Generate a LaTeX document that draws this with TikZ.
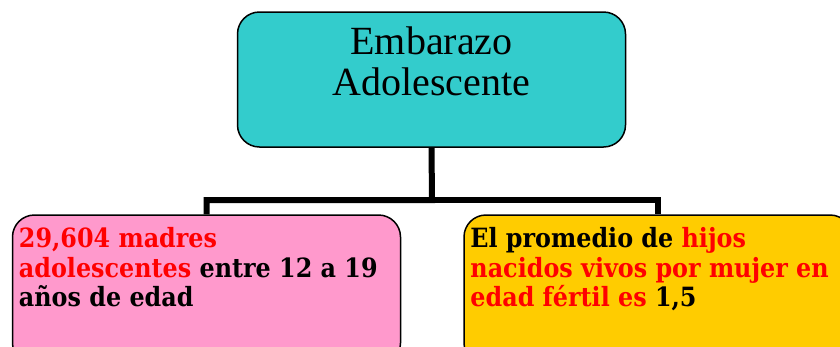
\documentclass[tikz,border=0pt]{standalone}
\usepackage{fontspec}
\setmainfont{Liberation Serif}
\newfontfamily\boxfont[FakeStretch=0.9]{DejaVu Serif}
\usetikzlibrary{positioning}
\definecolor{topfill}{HTML}{33CCCC}
\definecolor{leftfill}{HTML}{FF99CC}
\definecolor{rightfill}{HTML}{FFCC00}
\definecolor{hired}{HTML}{FF0000}

\begin{document}
\begin{tikzpicture}[x=1pt,y=-1pt]
	\tikzset{box/.style = {draw, line width=1.5pt, rounded corners=22pt, minimum width=388pt}}
	\tikzset{link/.style = {line width=6pt}}
	\tikzset{txt/.style = {inner sep=0pt, align=left, font=\boxfont\bfseries\fontsize{26.5}{29.5}\selectfont}}
	\useasboundingbox (0,0) rectangle (840,346);
	\clip (0,0) rectangle (840,346);
	\node[box, fill=topfill, minimum height=135pt] (top) at (431.5,79.5) {};
	\node[box, fill=leftfill, minimum height=150pt] (left) at (206.5,290) {};
	\node[box, fill=rightfill, minimum height=150pt] (right) at (658,290) {};
	\node[inner sep=0pt, align=center, font=\fontsize{40}{41.5}\selectfont, below=15pt of top.north] (title) {Embarazo\\Adolescente};
	\node[txt, below right=13pt and 7pt of left.north west] (lefttext) {\textcolor{hired}{29,604 madres}\\\textcolor{hired}{adolescentes} entre 12 a 19\\años de edad};
	\node[txt, below right=13pt and 7pt of right.north west] (righttext) {El promedio de \textcolor{hired}{hijos}\\\textcolor{hired}{nacidos vivos por mujer en}\\\textcolor{hired}{edad fértil es} 1,5};
	\coordinate (bar) at (432,200);
	\draw[link] (top.south) -- (bar) -| (left.north);
	\draw[link] (bar) -| (right.north);
\end{tikzpicture}
\end{document}
